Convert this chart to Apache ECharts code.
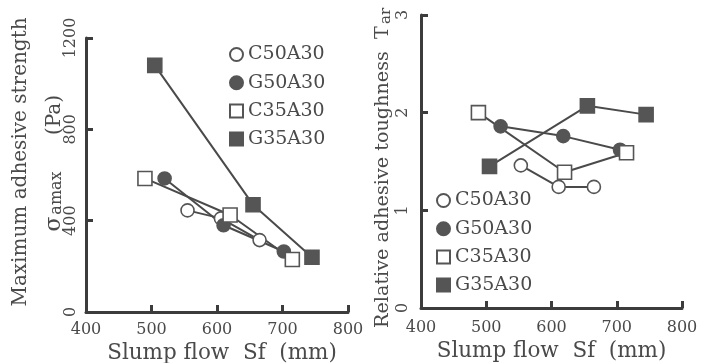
<!DOCTYPE html>
<html><head><meta charset="utf-8">
<script src="https://cdn.jsdelivr.net/npm/echarts@6/dist/echarts.min.js"></script>
<style>html,body{margin:0;padding:0;background:#fff}#c{width:706px;height:363px}</style>
</head><body><div id="c"></div>
<script>
// ---- data ----
const seriesNames = ['C50A30', 'G50A30', 'C35A30', 'G35A30'];
const xTicks = [400, 500, 600, 700, 800];
const strengthTicks = [0, 400, 800, 1200];
const toughTicks = [0, 1, 2, 3];
// Left panel: slump flow (mm) vs maximum adhesive strength (Pa)
const strengthC50 = [[555, 445], [606, 410], [665, 315]];
const strengthG50 = [[520, 585], [610, 380], [702, 265]];
const strengthC35 = [[490, 585], [620, 425], [715, 230]];
const strengthG35 = [[505, 1080], [655, 470], [745, 240]];
// Right panel: slump flow (mm) vs relative adhesive toughness
const toughC50 = [[553, 1.46], [611, 1.24], [665, 1.24]];
const toughG50 = [[522, 1.86], [618, 1.76], [705, 1.62]];
const toughC35 = [[488, 2.00], [620, 1.39], [715, 1.59]];
const toughG35 = [[505, 1.45], [655, 2.07], [745, 1.98]];

// ---- styles ----
const FONT = 'DejaVu Serif';
const TXT = '#4a4a4a';
const AX = '#3c3c3c';
const MK = '#555555';
const styles = {
  C50A30: { symbol: 'circle', size: 13, fill: '#ffffff' },
  G50A30: { symbol: 'circle', size: 13, fill: MK },
  C35A30: { symbol: 'rect', size: 14, fill: '#ffffff' },
  G35A30: { symbol: 'rect', size: 14, fill: MK }
};

function mkSeries(name, data, idx) {
  const s = styles[name];
  return {
    name: name, type: 'line', data: data,
    xAxisIndex: idx, yAxisIndex: idx,
    symbol: s.symbol, symbolSize: s.size,
    lineStyle: { color: '#4a4a4a', width: 2 },
    itemStyle: { color: s.fill, borderColor: MK, borderWidth: 1.6 },
    emphasis: { disabled: true },
    animation: false, z: 3
  };
}

function xAxis(gridIndex, nameGap, padLeft, labelMargin) {
  return {
    gridIndex: gridIndex, type: 'value',
    min: xTicks[0], max: xTicks[xTicks.length - 1], interval: xTicks[1] - xTicks[0],
    name: 'Slump flow  Sf  (mm)', nameLocation: 'middle', nameGap: nameGap,
    nameTextStyle: { fontFamily: FONT, fontSize: 21.5, color: TXT, padding: [0, 0, 0, padLeft] },
    axisLine: { show: true, lineStyle: { color: AX, width: 3 } },
    axisTick: { show: true, inside: true, length: 7, lineStyle: { color: AX, width: 3 } },
    axisLabel: { fontFamily: FONT, fontSize: 16, color: TXT, margin: labelMargin,
      formatter: v => String(v) },
    splitLine: { show: false }
  };
}

function yAxis(gridIndex, ticks, name, nameGap, pad, labelMargin) {
  return {
    gridIndex: gridIndex, type: 'value',
    min: ticks[0], max: ticks[ticks.length - 1], interval: ticks[1] - ticks[0],
    name: name, nameLocation: 'middle', nameGap: nameGap, nameRotate: 90,
    nameTextStyle: { fontFamily: FONT, fontSize: 20, color: TXT, padding: pad },
    axisLine: { show: true, lineStyle: { color: AX, width: 3 } },
    axisTick: { show: true, inside: true, length: 7, lineStyle: { color: AX, width: 3 } },
    axisLabel: { fontFamily: FONT, fontSize: 16, color: TXT, margin: labelMargin, rotate: 90,
      formatter: v => String(v) },
    splitLine: { show: false }
  };
}

function legend(left, top) {
  return {
    orient: 'vertical', left: left, top: top, padding: 0,
    itemWidth: 13, itemHeight: 13, itemGap: 9.2,
    textStyle: { fontFamily: FONT, fontSize: 19, color: TXT },
    data: seriesNames.map(n => ({ name: n, icon: styles[n].symbol }))
  };
}

function vText(text, x, y, size, align) {
  return { type: 'text', x: x, y: y, rotation: Math.PI / 2, silent: true,
    style: { text: text, align: align, verticalAlign: 'middle',
      fontFamily: FONT, fontSize: size, fill: TXT } };
}

const chart = echarts.init(document.getElementById('c'), null, { renderer: 'canvas' });
chart.setOption({
  backgroundColor: '#ffffff',
  animation: false,
  grid: [
    { left: 86, right: 358, top: 38, bottom: 51, outerBoundsMode: 'none', containLabel: false },
    { left: 421, right: 24, top: 15, bottom: 55, outerBoundsMode: 'none', containLabel: false }
  ],
  xAxis: [xAxis(0, 29, 10, 10), xAxis(1, 30, 0, 11.5)],
  yAxis: [
    yAxis(0, strengthTicks, 'Maximum adhesive strength', 55, [0, 0, 0, 26], 7),
    yAxis(1, toughTicks, '', 27, 0, 10)
  ],
  legend: [legend(229, 45), legend(436, 191)],
  graphic: [
    vText('σ', 54, 224, 22, 'center'),
    vText('amax', 56.5, 193, 16, 'center'),
    vText('(Pa)', 55, 115, 20, 'center'),
    vText('Relative adhesive toughness  T', 383, 328, 19.2, 'left'),
    vText('ar', 386, 24, 15, 'left')
  ],
  series: [
    mkSeries('C50A30', strengthC50, 0),
    mkSeries('G50A30', strengthG50, 0),
    mkSeries('C35A30', strengthC35, 0),
    mkSeries('G35A30', strengthG35, 0),
    mkSeries('C50A30', toughC50, 1),
    mkSeries('G50A30', toughG50, 1),
    mkSeries('C35A30', toughC35, 1),
    mkSeries('G35A30', toughG35, 1)
  ]
});
</script>
</body></html>
